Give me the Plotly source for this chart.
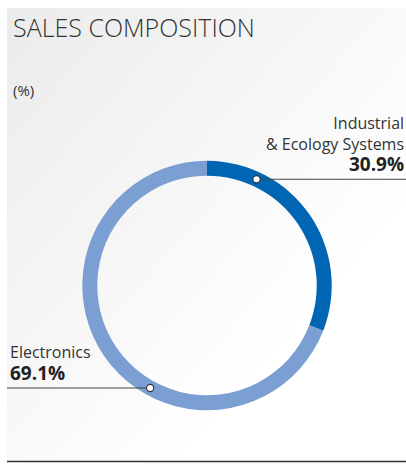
import base64
import math
import plotly.graph_objects as go

# ---- data -------------------------------------------------------------
segments = ["Industrial & Ecology Systems", "Electronics"]
shares = [30.9, 69.1]
label_lines = [["Industrial", "& Ecology Systems"], ["Electronics"]]
pointer_angles = [25, 209]          # where each leader line meets the ring (deg, clockwise from top)
colors = ["#0066b3", "#7b9fd2"]
title_text = "SALES COMPOSITION"
unit_text = "(%)"

# ---- canvas ------------------------------------------------------------
W, H = 406, 466
cx, cy = 207, 285.5                 # ring centre in px
r_out = 124.7
hole = 0.88
r_mid = r_out * (1 + hole) / 2


def px(x):
    return x / W


def py(y):
    return 1 - y / H


fig = go.Figure()

fig.add_trace(go.Pie(
    labels=segments,
    values=shares,
    sort=False,
    direction="clockwise",
    rotation=0,
    hole=hole,
    marker=dict(colors=colors, line=dict(width=0)),
    textinfo="none",
    hoverinfo="label+percent",
    showlegend=False,
    domain=dict(x=[px(cx - r_out), px(cx + r_out)],
                y=[py(cy + r_out), py(cy - r_out)]),
))

# soft grey panel fading to white
svg = (
    "<svg xmlns='http://www.w3.org/2000/svg' width='399' height='454'>"
    "<defs><linearGradient id='g' x1='0' y1='0' x2='1' y2='1'>"
    "<stop offset='0' stop-color='#ebebeb'/>"
    "<stop offset='0.72' stop-color='#ffffff'/>"
    "</linearGradient></defs>"
    "<rect width='399' height='454' fill='url(#g)'/></svg>"
)
bg_src = "data:image/svg+xml;base64," + base64.b64encode(svg.encode()).decode()

shapes = []
annotations = []

# leader lines and dots
dots = []
for ang in pointer_angles:
    a = math.radians(ang)
    dots.append((cx + r_mid * math.sin(a), cy - r_mid * math.cos(a)))

line_col = "#444444"
(d0x, d0y), (d1x, d1y) = dots
shapes.append(dict(type="line", xref="paper", yref="paper",
                   x0=px(d0x), y0=py(d0y), x1=1, y1=py(d0y),
                   line=dict(color=line_col, width=1.2)))
shapes.append(dict(type="line", xref="paper", yref="paper",
                   x0=px(7), y0=py(d1y), x1=px(d1x), y1=py(d1y),
                   line=dict(color=line_col, width=1.2)))
dot_r = 3.6
for dx, dy in dots:
    shapes.append(dict(type="circle", xref="paper", yref="paper",
                       x0=px(dx - dot_r), x1=px(dx + dot_r),
                       y0=py(dy + dot_r), y1=py(dy - dot_r),
                       fillcolor="white", line=dict(color="#333333", width=1.1),
                       layer="above"))

# bottom rule
shapes.append(dict(type="line", xref="paper", yref="paper",
                   x0=px(7), y0=py(461.5), x1=1, y1=py(461.5),
                   line=dict(color="#333333", width=1.6)))

text_col = "#333333"
font_reg = "Open Sans, Noto Sans, sans-serif"


def add_text(text, x, centre, size, xanchor, weight=None, align="left"):
    f = dict(family=font_reg, size=size, color=text_col)
    if weight is not None:
        f["weight"] = weight
    annotations.append(dict(
        text=text, xref="paper", yref="paper", x=px(x), y=py(centre),
        xanchor=xanchor, yanchor="middle", showarrow=False, align=align,
        font=f, borderpad=0,
    ))


def pct(v):
    return f"<b><span style='font-size:19px;color:#222222'>{v:.1f}%</span></b>"


add_text(title_text, 12, 35 - 0.33 * 25, 25, "left", weight=300)
add_text(unit_text, 12, 95 - 0.33 * 15, 15, "left")

# right label (Industrial & Ecology Systems)
add_text("<br>".join(label_lines[0] + [pct(shares[0])]),
         405, 144.7, 16, "right", align="right")

# left label (Electronics)
add_text(f"<span style='font-size:16px'>{label_lines[1][0]}</span><br>{pct(shares[1])}",
         9, 363.2, 17, "left", align="left")

fig.update_layout(
    width=W, height=H,
    margin=dict(l=0, r=0, t=0, b=0),
    paper_bgcolor="white",
    plot_bgcolor="rgba(0,0,0,0)",
    images=[dict(source=bg_src, xref="paper", yref="paper",
                 x=px(7), y=py(8), sizex=px(W - 7), sizey=(461 - 8) / H,
                 xanchor="left", yanchor="top", sizing="stretch",
                 layer="below")],
    shapes=shapes,
    annotations=annotations,
)

fig.write_html("out.html")
